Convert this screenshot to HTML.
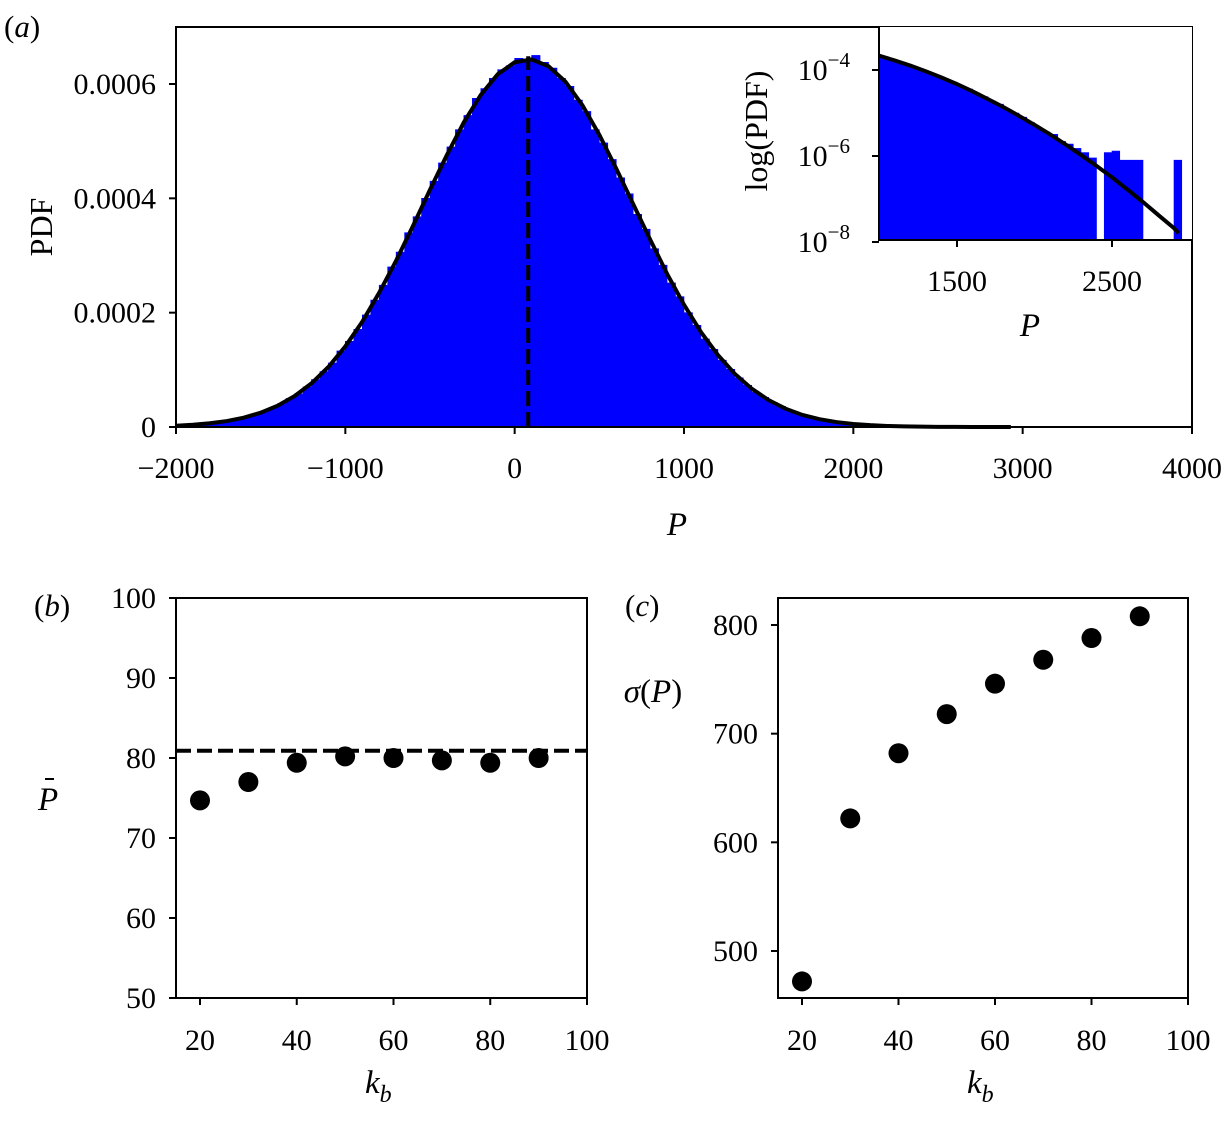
<!DOCTYPE html>
<html><head><meta charset="utf-8"><style>
html,body{margin:0;padding:0;background:#fff}
svg{display:block;font-family:"Liberation Serif",serif}
</style></head><body>
<svg id="fig" width="1224" height="1127" viewBox="0 0 1224 1127" xmlns="http://www.w3.org/2000/svg">
<g id="ga"></g>
<g id="gi"></g>
<g id="gb"></g>
<g id="gc"></g>
</svg>
<script>
// Histogram data (units of 1e-6), bin width 50
const histCenters = [];
for (let c = -1975; c <= 2975; c += 50) histCenters.push(c);
const histValues = [3,4,5,6,8,10,12,15,19,23,28,34,41,50,58,70,83,97,112,133,150,171,196,222,248,280,306,340,368,400,430,462,490,520,545,575,592,610,625,632,645,640,650,638,628,610,596,572,552,520,497,468,436,408,372,346,312,283,252,228,200,178,154,136,117,101,86,73,61,52,43,36,29,24,19,16,12,10,8,6,
4.5,3.6,3.2,2.2,1.9,1.5,1.2,0.9,0,1.2,1.3,0.8,0.8,0.8,0,0,0,0,0.8,0];
// Fit curve (units of 1e-6)
const fitX = [-2000,-1900,-1800,-1700,-1600,-1500,-1400,-1300,-1200,-1100,-1000,-900,-800,-700,-600,-500,-400,-300,-200,-100,0,100,200,300,400,500,600,700,800,900,1000,1100,1200,1300,1400,1500,1600,1700,1800,1900,2000,2100,2200,2300,2400,2500,2600,2700,2800,2900,2930];
const fitY = [2.3,3.9,6.5,10.4,16.3,25,37.2,54,76.3,105,141,184,235,291,352,415,476,533,581,617,638,643,631,604,563,511,452,390,328,268,214,166,126,93,67,47,32,21,13.7,8.6,5.3,3.2,1.86,1.06,0.59,0.32,0.166,0.085,0.042,0.021,0.016];
const meanP = 80;
// Panel b/c
const kb = [20,30,40,50,60,70,80,90];
const pbar = [74.7,77,79.4,80.2,80,79.7,79.4,80];
const pbarRef = 80.9;
const sigma = [472,622,682,718,746,768,788,808];
const aXTicks = [-2000,-1000,0,1000,2000,3000,4000];
const aXLabels = ["\u22122000","\u22121000","0","1000","2000","3000","4000"];
const aYTicks = [0,200,400,600];
const aYLabels = ["0","0.0002","0.0004","0.0006"];
const iXTicks = [1500,2500];
const iYExp = [-4,-6,-8];
const bYTicks = [50,60,70,80,90,100];
const kTicks = [20,40,60,80,100];
const cYTicks = [500,600,700,800];

const FS = 30;
const NS = "http://www.w3.org/2000/svg";
function mk(parent, tag, attrs, text) {
  const e = document.createElementNS(NS, tag);
  for (const k in attrs) e.setAttribute(k, attrs[k]);
  if (text !== undefined) e.textContent = text;
  parent.appendChild(e);
  return e;
}
function lin(d0, d1, r0, r1) { return v => r0 + (v - d0) / (d1 - d0) * (r1 - r0); }

// ---------- Panel a ----------
const ga = document.getElementById('ga');
const ax = lin(-2000, 4000, 176, 1192);
const ay = lin(0, 600, 427, 84);
let d = "";
histCenters.forEach((c, i) => {
  const v = histValues[i]; if (!(v > 0)) return;
  d += `M${ax(c-25).toFixed(2)},${ay(0)}V${ay(v).toFixed(2)}H${ax(c+25).toFixed(2)}V${ay(0)}Z`;
});
let hist = mk(ga, 'path', {d: d, fill: '#0000ff', stroke: '#0000ff', 'stroke-width': 0.6});


let fit = mk(ga, 'polyline', {points: fitX.map((x,i)=>`${ax(x).toFixed(2)},${ay(fitY[i]).toFixed(2)}`).join(' '), fill: 'none', stroke: '#000', 'stroke-width': 4});


let ml = mk(ga, 'line', {x1: ax(meanP), x2: ax(meanP), y1: ay(0), y2: ay(638)-6, stroke: '#000', 'stroke-width': 4, 'stroke-dasharray': '15,6'});


let fa = mk(ga, 'rect', {x:176, y:27, width:1016, height:400, fill:'none', stroke:'#000', 'stroke-width':2});


aXTicks.forEach((t,i)=>{
  mk(ga,'line',{x1:ax(t),x2:ax(t),y1:427,y2:434,stroke:'#000','stroke-width':2});
  let l = mk(ga,'text',{x:ax(t),y:478,'text-anchor':'middle','font-size':FS},aXLabels[i]);
  
  
});
aYTicks.forEach((t,i)=>{
  mk(ga,'line',{x1:169,x2:176,y1:ay(t),y2:ay(t),stroke:'#000','stroke-width':2});
  let l = mk(ga,'text',{x:156,y:ay(t)+10,'text-anchor':'end','font-size':FS},aYLabels[i]);
  
  
});
let t;
t = mk(ga,'text',{x:677,y:535,'text-anchor':'middle','font-size':33,'font-style':'italic'},'P');
 
t = mk(ga,'text',{x:0,y:0,'text-anchor':'middle','font-size':32,transform:'translate(52,227) rotate(-90)'},'PDF');
 
t = mk(ga,'text',{x:4,y:37,'font-size':31},'');
t.innerHTML = '(<tspan font-style="italic">a</tspan>)';
 

// ---------- Inset ----------
const gi = document.getElementById('gi');
const ix = lin(1500, 2500, 957, 1112);
const iy = v => 70 + (-4 - Math.log10(v)) * 43;  // v in absolute PDF
mk(gi,'rect',{x:879,y:27,width:313,height:213,fill:'#fff'});
d = "";
histCenters.forEach((c, i) => {
  const v = histValues[i]*1e-6; if (!(v > 0) || c < 1000) return;
  d += `M${ix(c-25).toFixed(2)},240V${Math.max(27,iy(v)).toFixed(2)}H${ix(c+25).toFixed(2)}V240Z`;
});
let ih = mk(gi,'path',{d:d,fill:'#0000ff',stroke:'#0000ff','stroke-width':0.6});
 
const cp = document.createElementNS(NS,'clipPath'); cp.setAttribute('id','ic'); gi.appendChild(cp);
mk(cp,'rect',{x:879,y:27,width:313,height:213});
let ifit = mk(gi,'polyline',{points: fitX.filter(x=>x>=900).map(x=>{const i=fitX.indexOf(x);return `${ix(x).toFixed(2)},${iy(fitY[i]*1e-6).toFixed(2)}`}).join(' '),fill:'none',stroke:'#000','stroke-width':4,'clip-path':'url(#ic)'});
 
mk(gi,'line',{x1:879,x2:879,y1:27,y2:241,stroke:'#000','stroke-width':2});
mk(gi,'line',{x1:878,x2:1192,y1:240,y2:240,stroke:'#000','stroke-width':2});
iXTicks.forEach(v=>{
  mk(gi,'line',{x1:ix(v),x2:ix(v),y1:240,y2:247,stroke:'#000','stroke-width':2});
  let l = mk(gi,'text',{x:ix(v),y:291,'text-anchor':'middle','font-size':FS},String(v));
   
});
iYExp.forEach(e=>{
  const y = iy(Math.pow(10,e));
  mk(gi,'line',{x1:872,x2:879,y1:y,y2:y,stroke:'#000','stroke-width':2});
  let l = mk(gi,'text',{x:850,y:y+10,'text-anchor':'end','font-size':FS},'');
  l.innerHTML = `10<tspan dy="-13" font-size="21">\u2212${-e}</tspan>`;
   
});
t = mk(gi,'text',{x:1030,y:336,'text-anchor':'middle','font-size':33,'font-style':'italic'},'P');
 
t = mk(gi,'text',{x:0,y:0,'text-anchor':'middle','font-size':32,transform:'translate(767,131) rotate(-90)'},'log(PDF)');
 

// ---------- Panel b ----------
const gb = document.getElementById('gb');
const bx = lin(20, 100, 200, 587);
const by = lin(50, 100, 998, 598);
let rl = mk(gb,'line',{x1:176,x2:587,y1:by(pbarRef),y2:by(pbarRef),stroke:'#000','stroke-width':4,'stroke-dasharray':'15,6'});
 
kb.forEach((k,i)=>{
  let c = mk(gb,'circle',{cx:bx(k),cy:by(pbar[i]),r:10,fill:'#000'});
   
});
mk(gb,'rect',{x:176,y:598,width:411,height:400,fill:'none',stroke:'#000','stroke-width':2});
kTicks.forEach(v=>{
  mk(gb,'line',{x1:bx(v),x2:bx(v),y1:998,y2:1005,stroke:'#000','stroke-width':2});
  let l = mk(gb,'text',{x:bx(v),y:1050,'text-anchor':'middle','font-size':FS},String(v));
   
});
bYTicks.forEach(v=>{
  mk(gb,'line',{x1:169,x2:176,y1:by(v),y2:by(v),stroke:'#000','stroke-width':2});
  let l = mk(gb,'text',{x:156,y:by(v)+10,'text-anchor':'end','font-size':FS},String(v));
   
});
t = mk(gb,'text',{x:365,y:1093,'font-size':33,'font-style':'italic'},'');
t.innerHTML = 'k<tspan dy="9" font-size="24">b</tspan>';
 
t = mk(gb,'text',{x:38,y:810,'font-size':33,'font-style':'italic'},'P');
 
mk(gb,'line',{x1:45,x2:54,y1:779,y2:779,stroke:'#000','stroke-width':2});
t = mk(gb,'text',{x:34,y:616,'font-size':31},'');
t.innerHTML = '(<tspan font-style="italic">b</tspan>)';
 

// ---------- Panel c ----------
const gc = document.getElementById('gc');
const cx = lin(20, 100, 802, 1188);
const cy = lin(500, 800, 951, 625);
sigma.forEach((s,i)=>{
  let c = mk(gc,'circle',{cx:cx(kb[i]),cy:cy(s),r:10,fill:'#000'});
   
});
mk(gc,'rect',{x:778,y:598,width:410,height:400,fill:'none',stroke:'#000','stroke-width':2});
kTicks.forEach(v=>{
  mk(gc,'line',{x1:cx(v),x2:cx(v),y1:998,y2:1005,stroke:'#000','stroke-width':2});
  let l = mk(gc,'text',{x:cx(v),y:1050,'text-anchor':'middle','font-size':FS},String(v));
   
});
cYTicks.forEach(v=>{
  mk(gc,'line',{x1:771,x2:778,y1:cy(v),y2:cy(v),stroke:'#000','stroke-width':2});
  let l = mk(gc,'text',{x:758,y:cy(v)+10,'text-anchor':'end','font-size':FS},String(v));
   
});
t = mk(gc,'text',{x:967,y:1093,'font-size':33,'font-style':'italic'},'');
t.innerHTML = 'k<tspan dy="9" font-size="24">b</tspan>';
 
t = mk(gc,'text',{x:653,y:702,'text-anchor':'middle','font-size':33},'');
t.innerHTML = '<tspan font-style="italic">σ</tspan>(<tspan font-style="italic">P</tspan>)';
 
t = mk(gc,'text',{x:625,y:616,'font-size':31},'');
t.innerHTML = '(<tspan font-style="italic">c</tspan>)';
 
</script>
</body></html>
